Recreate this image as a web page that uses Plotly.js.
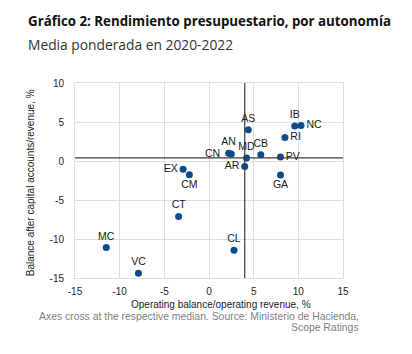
<!DOCTYPE html>
<html><head><meta charset="utf-8">
<script src="https://cdn.plot.ly/plotly-3.0.1.min.js"></script>
<style>html,body{margin:0;padding:0;background:#fff;}#chart{width:412px;height:354px;}</style>
</head><body><div id="chart"></div>
<script>
const regions = ["AS","IB","NC","RI","AN","CN","MD","CB","PV","AR","EX","CM","GA","CT","MC","VC","CL"];
const operatingBalance = [4.4, 9.6, 10.3, 8.5, 2.2, 2.5, 4.2, 5.8, 8.0, 4.0, -2.9, -2.2, 8.0, -3.4, -11.5, -7.9, 2.8];
const balanceAfterCapital = [4.0, 4.5, 4.55, 3.0, 1.0, 0.9, 0.4, 0.8, 0.5, -0.7, -1.07, -1.75, -1.8, -7.1, -11.1, -14.4, -11.45];
const labelPositions = ["top center","top center","middle right","middle right","top center","middle left","top center","top center","middle right","middle left","middle left","bottom center","bottom center","top center","top center","top center","top center"];
const xTicks = [-15,-10,-5,0,5,10,15];
const yTicks = [-15,-10,-5,0,5,10];

function median(a){const s=[...a].sort((p,q)=>p-q);const n=s.length;return n%2?s[(n-1)/2]:(s[n/2-1]+s[n/2])/2;}
const mx = median(operatingBalance), my = median(balanceAfterCapital);
const labels = regions.map(r => r === 'CN' ? r + '\u00a0\u00a0' : r);

const trace = {
  type:'scatter', mode:'markers+text',
  x: operatingBalance, y: balanceAfterCapital, text: labels,
  textposition: labelPositions,
  textfont:{family:'Liberation Sans, Arial, sans-serif', size:10.5, color:'#1a1a1a'},
  marker:{color:'#0b4d8c', size:7},
  cliponaxis:false, hoverinfo:'none'
};
const axisFont = {family:'Liberation Sans, Arial, sans-serif', size:10, color:'#262626'};
const layout = {
  width:412, height:354,
  margin:{l:75, r:69, t:83, b:76},
  paper_bgcolor:'#fff', plot_bgcolor:'#fff',
  showlegend:false,
  xaxis:{range:[-15,15], tickvals:xTicks, ticktext:xTicks.map(String), showgrid:true, gridcolor:'#dedede', gridwidth:1,
    zeroline:false, showline:true, linecolor:'#dedede', mirror:true, ticks:'', tickfont:axisFont, ticklabelstandoff:4, fixedrange:true},
  yaxis:{range:[-15,10], tickvals:yTicks, ticktext:yTicks.map(String), showgrid:true, gridcolor:'#dedede', gridwidth:1,
    zeroline:false, showline:true, linecolor:'#dedede', mirror:true, ticks:'', tickfont:axisFont, ticklabelstandoff:8, fixedrange:true},
  shapes:[
    {type:'line', xref:'x', yref:'paper', x0:mx, x1:mx, y0:0, y1:1, line:{color:'#3c3c3c', width:1.2}},
    {type:'line', xref:'paper', yref:'y', x0:0, x1:1, y0:my, y1:my, line:{color:'#3c3c3c', width:1.2}}
  ],
  annotations:[
    {xref:'paper', yref:'paper', x:-0.183, y:1.318, xanchor:'left', yanchor:'middle', showarrow:false,
     text:'<b>Gráfico 2: Rendimiento presupuestario, por autonomía</b>', font:{family:'Open Sans, sans-serif', size:13.3, color:'#111'}},
    {xref:'paper', yref:'paper', x:-0.183, y:1.2, xanchor:'left', yanchor:'middle', showarrow:false,
     text:'Media ponderada en 2020-2022', font:{family:'Open Sans, sans-serif', size:13.8, color:'#333'}},
    {xref:'paper', yref:'paper', x:0.545, y:-0.135, xanchor:'center', yanchor:'middle', showarrow:false,
     text:'Operating balance/operating revenue, %', font:{family:'Liberation Sans, Arial, sans-serif', size:10, color:'#1a1a1a'}},
    {xref:'paper', yref:'paper', x:-0.165, y:0.49, xanchor:'center', yanchor:'middle', showarrow:false, textangle:-90,
     text:'Balance after capital accounts/revenue, %', font:{family:'Liberation Sans, Arial, sans-serif', size:10, color:'#1a1a1a'}},
    {xref:'paper', yref:'paper', x:1.067, y:-0.195, xanchor:'right', yanchor:'middle', showarrow:false,
     text:'Axes cross at the respective median. Source: Ministerio de Hacienda,', font:{family:'Liberation Sans, Arial, sans-serif', size:10.4, color:'#808080'}},
    {xref:'paper', yref:'paper', x:1.067, y:-0.252, xanchor:'right', yanchor:'middle', showarrow:false,
     text:'Scope Ratings', font:{family:'Liberation Sans, Arial, sans-serif', size:10.4, color:'#808080'}}
  ]
};
Plotly.newPlot('chart',[trace],layout,{displayModeBar:false, staticPlot:true});
</script></body></html>
